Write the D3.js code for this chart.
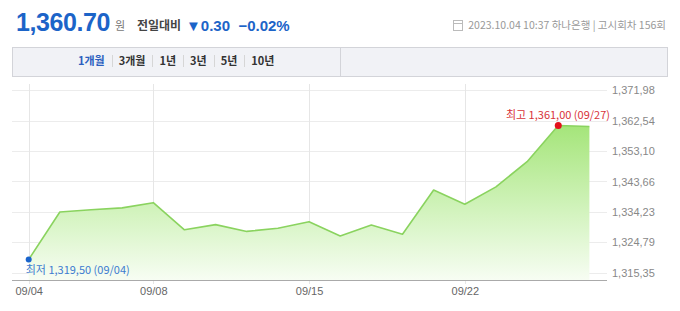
<!DOCTYPE html>
<html>
<head>
<meta charset="utf-8">
<script src="https://cdn.jsdelivr.net/npm/d3@7"></script>
<style>
  body { margin: 0; background: #fff; }
  svg { display: block; font-family: "Liberation Sans", "Noto Sans CJK KR", sans-serif; }
</style>
</head>
<body>
<div id="chart"></div>
<script>
// daily USD/KRW rate, 1 month
var dates = ["09/04", "09/05", "09/06", "09/07", "09/08", "09/11", "09/12", "09/13", "09/14", "09/15",
  "09/18", "09/19", "09/20", "09/21", "09/22", "09/25", "09/26", "09/27", "10/04"];
var rates = [1319.5, 1334.2, 1334.9, 1335.5, 1337.1, 1328.7, 1330.3, 1328.2, 1329.2, 1331.2,
  1326.8, 1330.2, 1327.3, 1341.0, 1336.6, 1342.0, 1349.8, 1361.0, 1360.7];
var xTicks = ["09/04", "09/08", "09/15", "09/22"];
var yTicks = [1315.35, 1324.79, 1334.23, 1343.66, 1353.10, 1362.54, 1371.98];
var periods = ["1개월", "3개월", "1년", "3년", "5년", "10년"];

var svgWidth = 680;
var svgHeight = 311;

var plot = { left: 12, right: 607, top: 84, bottom: 280 };

var svg = d3.select("#chart")
  .append("svg")
  .attr("width", svgWidth)
  .attr("height", svgHeight);

// numbers drawn with comma separators like the source
function fmt(v) {
  return d3.format(",.2f")(v).replace(/\.(\d\d)$/, ",$1");
}

// ---- header ----
svg.append("text")
  .attr("x", 16).attr("y", 31)
  .attr("font-size", 25).attr("font-weight", "bold")
  .attr("letter-spacing", -0.4)
  .attr("fill", "#1c64c8")
  .text("1,360.70");

svg.append("text")
  .attr("x", 115).attr("y", 30)
  .attr("font-size", 11).attr("fill", "#777")
  .attr("font-family", "Noto Sans CJK KR")
  .text("원");

svg.append("text")
  .attr("x", 137).attr("y", 30)
  .attr("font-size", 12).attr("font-weight", "bold").attr("fill", "#444")
  .attr("font-family", "Noto Sans CJK KR")
  .text("전일대비");

svg.append("text")
  .attr("x", 186).attr("y", 31)
  .attr("font-size", 15).attr("font-weight", "bold").attr("fill", "#1c64c8")
  .text("▼0.30  −0.02%")
  .attr("xml:space", "preserve");

// small calendar icon
var icon = svg.append("g").attr("transform", "translate(453.5, 20.5)");
icon.append("rect").attr("width", 9).attr("height", 10).attr("fill", "none").attr("stroke", "#bbb");
icon.append("line").attr("x1", 0).attr("x2", 9).attr("y1", 3).attr("y2", 3).attr("stroke", "#bbb");

svg.append("text")
  .attr("x", 666).attr("y", 29)
  .attr("text-anchor", "end")
  .attr("font-size", 10.5).attr("fill", "#999")
  .attr("font-family", "Noto Sans CJK KR")
  .text("2023.10.04 10:37 하나은행 | 고시회차 156회");

// ---- period tab bar ----
var bar = svg.append("g");
bar.append("rect")
  .attr("x", 12.5).attr("y", 47.5).attr("width", 655).attr("height", 29)
  .attr("fill", "#f1f2f6").attr("stroke", "#d3d4d9");
bar.append("line")
  .attr("x1", 340.5).attr("x2", 340.5).attr("y1", 47.5).attr("y2", 76.5)
  .attr("stroke", "#d3d4d9");

// lay tabs out one after another with a fixed gap
var tabGap = 14;
var tabCursor = 78;
periods.forEach(function(p, i) {
  if (i > 0) {
    var sx = Math.round(tabCursor - tabGap / 2) + 0.5;
    bar.append("line")
      .attr("x1", sx).attr("x2", sx)
      .attr("y1", 55).attr("y2", 67)
      .attr("stroke", "#d6d6d6");
  }
  var t = bar.append("text")
    .attr("x", tabCursor).attr("y", 65)
    .attr("font-size", 11).attr("font-weight", "bold")
    .attr("font-family", "Noto Sans CJK KR")
    .attr("fill", i === 0 ? "#2b5fbf" : "#333")
    .text(p);
  tabCursor += t.node().getComputedTextLength() + tabGap;
});

// ---- scales ----
var x = d3.scalePoint()
  .domain(dates)
  .range([28.7, 589.4]);

var y = d3.scaleLinear()
  .domain([1319.5, 1361])
  .range([259.5, 125.5]);

// gradient for area
var defs = svg.append("defs");
var grad = defs.append("linearGradient")
  .attr("id", "fillGrad")
  .attr("x1", 0).attr("x2", 0).attr("y1", 0).attr("y2", 1);
grad.append("stop").attr("offset", "0%").attr("stop-color", "#a5e57a").attr("stop-opacity", 1);
grad.append("stop").attr("offset", "55%").attr("stop-color", "#d2f3bd").attr("stop-opacity", 1);
grad.append("stop").attr("offset", "100%").attr("stop-color", "#f7fdf3").attr("stop-opacity", 1);

var chartGroup = svg.append("g");

// horizontal grid
chartGroup.selectAll(".hgrid")
  .data(yTicks)
  .enter()
  .append("line")
  .attr("x1", plot.left).attr("x2", plot.right)
  .attr("y1", d => Math.round(y(d)) + 0.5)
  .attr("y2", d => Math.round(y(d)) + 0.5)
  .attr("stroke", "#ececec");

// vertical grid
chartGroup.selectAll(".vgrid")
  .data(xTicks)
  .enter()
  .append("line")
  .attr("x1", d => Math.round(x(d)) + 0.5)
  .attr("x2", d => Math.round(x(d)) + 0.5)
  .attr("y1", plot.top).attr("y2", plot.bottom + 4)
  .attr("stroke", "#e6e6e6");

// area + line
var area = d3.area()
  .x((d, i) => x(dates[i]))
  .y0(plot.bottom)
  .y1(d => y(d));

var line = d3.line()
  .x((d, i) => x(dates[i]))
  .y(d => y(d));

chartGroup.append("path")
  .datum(rates)
  .attr("d", area)
  .attr("fill", "url(#fillGrad)");

chartGroup.append("path")
  .datum(rates)
  .attr("d", line)
  .attr("fill", "none")
  .attr("stroke", "#8ad35f")
  .attr("stroke-width", 1.6)
  .attr("stroke-linejoin", "round");

// bottom axis
var bottomAxis = d3.axisBottom(x)
  .tickValues(xTicks)
  .tickSize(0)
  .tickPadding(7);

var xAxis = chartGroup.append("g")
  .attr("transform", `translate(0, ${plot.bottom})`)
  .call(bottomAxis);
xAxis.select(".domain").remove();
xAxis.selectAll("text")
  .attr("font-size", 11).attr("fill", "#666")
  .attr("font-family", "Liberation Sans");

chartGroup.append("line")
  .attr("x1", plot.left).attr("x2", plot.right)
  .attr("y1", plot.bottom + 0.5).attr("y2", plot.bottom + 0.5)
  .attr("stroke", "#aaa");

// right axis labels
var rightAxis = d3.axisRight(y)
  .tickValues(yTicks)
  .tickSize(0)
  .tickPadding(0)
  .tickFormat(fmt);

var yAxis = chartGroup.append("g")
  .attr("transform", `translate(612, 0)`)
  .call(rightAxis);
yAxis.select(".domain").remove();
yAxis.selectAll("text")
  .attr("font-size", 11).attr("fill", "#888")
  .attr("font-family", "Liberation Sans");

// min / max markers
var minIdx = d3.minIndex(rates);
var maxIdx = d3.maxIndex(rates);

chartGroup.append("circle")
  .attr("cx", x(dates[minIdx])).attr("cy", y(rates[minIdx]))
  .attr("r", 3).attr("fill", "#1a64cc");
chartGroup.append("text")
  .attr("x", x(dates[minIdx]) - 3).attr("y", y(rates[minIdx]) + 14)
  .attr("font-size", 11).attr("fill", "#3d7bd0")
  .attr("font-family", "Noto Sans CJK KR")
  .text("최저 " + fmt(rates[minIdx]) + " (" + dates[minIdx] + ")");

chartGroup.append("circle")
  .attr("cx", x(dates[maxIdx])).attr("cy", y(rates[maxIdx]))
  .attr("r", 3.5).attr("fill", "#e3101c");
chartGroup.append("text")
  .attr("x", 610).attr("y", y(rates[maxIdx]) - 7)
  .attr("text-anchor", "end")
  .attr("font-size", 11).attr("fill", "#d8333a")
  .attr("font-family", "Noto Sans CJK KR")
  .text("최고 " + fmt(rates[maxIdx]) + " (" + dates[maxIdx] + ")");
</script>
</body>
</html>
